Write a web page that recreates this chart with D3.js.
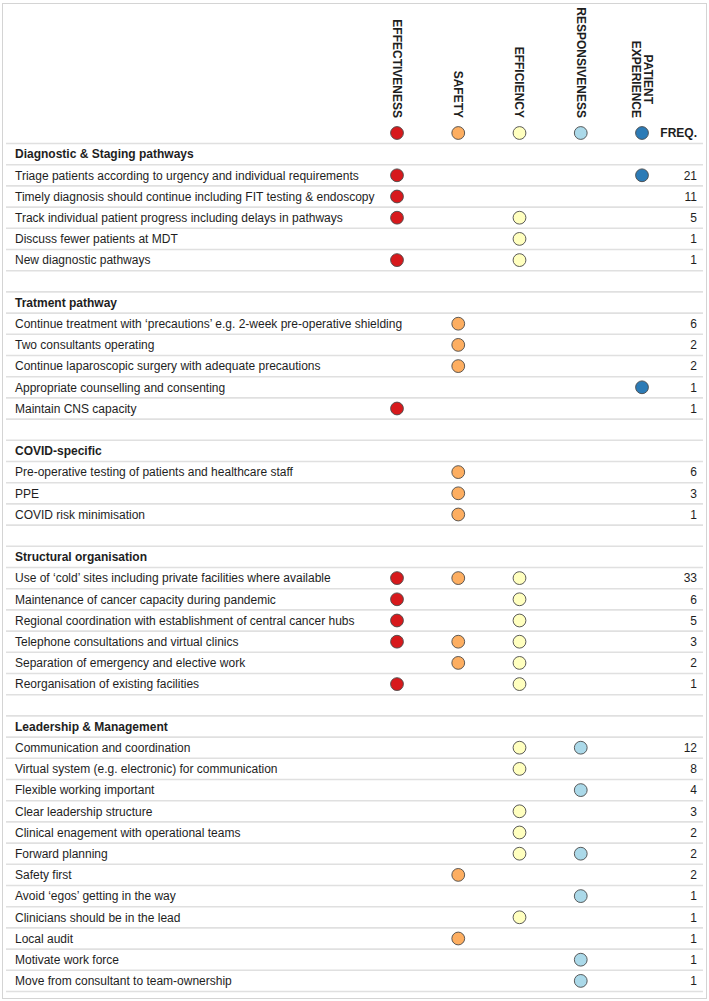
<!DOCTYPE html>
<html><head><meta charset="utf-8">
<script src="https://cdn.jsdelivr.net/npm/d3@7"></script>
<style>body{margin:0;background:#fff}svg{display:block}text{font-family:"Liberation Sans",Arial,Helvetica,sans-serif;fill:#1e1e1e}</style>
</head><body><svg id="c" width="709" height="1001"></svg>
<script>
const dimensions = ["EFFECTIVENESS", "SAFETY", "EFFICIENCY", "RESPONSIVENESS", "PATIENT EXPERIENCE"];
const dimColors = ["#d7191c", "#fdae61", "#ffffbf", "#abd9e9", "#2c7bb6"];
const sections = ["Diagnostic & Staging pathways", "Tratment pathway", "COVID-specific", "Structural organisation", "Leadership & Management"];
const itemLabels = [
  "Triage patients according to urgency and individual requirements",
  "Timely diagnosis should continue including FIT testing & endoscopy",
  "Track individual patient progress including delays in pathways",
  "Discuss fewer patients at MDT",
  "New diagnostic pathways",
  "Continue treatment with \u2018precautions\u2019 e.g. 2-week pre-operative shielding",
  "Two consultants operating",
  "Continue laparoscopic surgery with adequate precautions",
  "Appropriate counselling and consenting",
  "Maintain CNS capacity",
  "Pre-operative testing of patients and healthcare staff",
  "PPE",
  "COVID risk minimisation",
  "Use of \u2018cold\u2019 sites including private facilities where available",
  "Maintenance of cancer capacity during pandemic",
  "Regional coordination with establishment of central cancer hubs",
  "Telephone consultations and virtual clinics",
  "Separation of emergency and elective work",
  "Reorganisation of existing facilities",
  "Communication and coordination",
  "Virtual system (e.g. electronic) for communication",
  "Flexible working important",
  "Clear leadership structure",
  "Clinical enagement with operational teams",
  "Forward planning",
  "Safety first",
  "Avoid \u2018egos\u2019 getting in the way",
  "Clinicians should be in the lead",
  "Local audit",
  "Motivate work force",
  "Move from consultant to team-ownership"
];
const itemSection = [0,0,0,0,0, 1,1,1,1,1, 2,2,2, 3,3,3,3,3,3, 4,4,4,4,4,4,4,4,4,4,4,4];
const itemFreq = [21,11,5,1,1, 6,2,2,1,1, 6,3,1, 33,6,5,3,2,1, 12,8,4,3,2,2,2,1,1,1,1,1];
const itemDims = [
  [0,4],[0],[0,2],[2],[0,2],
  [1],[1],[1],[4],[0],
  [1],[1],[1],
  [0,1,2],[0,2],[0,2],[0,1,2],[1,2],[0,2],
  [2,3],[2],[3],[2],[2],[2,3],[1],[3],[2],[1],[3],[3]
];

// build row list
const rows = [];
sections.forEach((s, si) => {
  rows.push({type: "section", label: s});
  itemLabels.forEach((lab, i) => {
    if (itemSection[i] === si) rows.push({type: "item", label: lab, freq: itemFreq[i], dims: itemDims[i]});
  });
  if (si < sections.length - 1) rows.push({type: "blank"});
});

const svg = d3.select("#c");
const top0 = 143.5, rowH = 21.2;
const y = d3.scaleBand().domain(d3.range(rows.length)).range([top0, top0 + rows.length * rowH]).padding(0);
const x = d3.scalePoint().domain(dimensions).range([397, 642]);

// outer border
svg.append("rect").attr("x", 2.5).attr("y", 3.5).attr("width", 704).attr("height", 995)
  .attr("fill", "none").attr("stroke", "#d4d4d4").attr("stroke-width", 1);

// separators
svg.append("g").selectAll("line").data(d3.range(rows.length + 1)).join("line")
  .attr("x1", 6).attr("x2", 703)
  .attr("y1", i => top0 + i * rowH).attr("y2", i => top0 + i * rowH)
  .attr("stroke", "#e0e0e0").attr("stroke-width", 1.6);

// header labels
const hdr = svg.append("g");
const hfs = 12;
dimensions.forEach((d, i) => {
  const cx = x(d);
  if (d === "PATIENT EXPERIENCE") {
    const g = hdr.append("g").attr("transform", `translate(${cx},118) rotate(90)`);
    const t2 = g.append("text").attr("x", 0).attr("y", 6).attr("dy", "0.35em")
      .attr("text-anchor", "end").attr("font-size", hfs).attr("font-weight", "bold").text("EXPERIENCE");
    const w = t2.node().getComputedTextLength();
    g.append("text").attr("x", -w / 2).attr("y", -6).attr("dy", "0.35em")
      .attr("text-anchor", "middle").attr("font-size", hfs).attr("font-weight", "bold").text("PATIENT");
  } else {
    hdr.append("text").attr("transform", `translate(${cx},118) rotate(90)`)
      .attr("dy", "0.35em").attr("text-anchor", "end").attr("font-size", hfs).attr("font-weight", "bold").text(d);
  }
});
// legend circles
hdr.selectAll("circle").data(dimensions).join("circle")
  .attr("cx", d => x(d)).attr("cy", 133).attr("r", 6.4)
  .attr("fill", (d, i) => dimColors[i]).attr("stroke", "#4a4a4a").attr("stroke-width", 0.9);
hdr.append("text").attr("x", 697).attr("y", 133).attr("dy", "0.35em").attr("text-anchor", "end")
  .attr("font-size", 12).attr("font-weight", "bold").text("FREQ.");

// rows
const rg = svg.append("g").selectAll("g").data(rows).join("g")
  .attr("transform", (d, i) => `translate(0,${y(i) + y.bandwidth() / 2})`);
rg.filter(d => d.type !== "blank").append("text").attr("x", 15).attr("dy", "0.35em")
  .attr("font-size", 12).attr("font-weight", d => d.type === "section" ? "bold" : "normal")
  .text(d => d.label);
const it = rg.filter(d => d.type === "item");
it.append("text").attr("x", 697).attr("dy", "0.35em").attr("text-anchor", "end").attr("font-size", 12)
  .text(d => d.freq);
it.selectAll("circle").data(d => d.dims).join("circle")
  .attr("cx", k => x(dimensions[k])).attr("cy", 0).attr("r", 6.4)
  .attr("fill", k => dimColors[k]).attr("stroke", "#4a4a4a").attr("stroke-width", 0.9);
</script></body></html>
